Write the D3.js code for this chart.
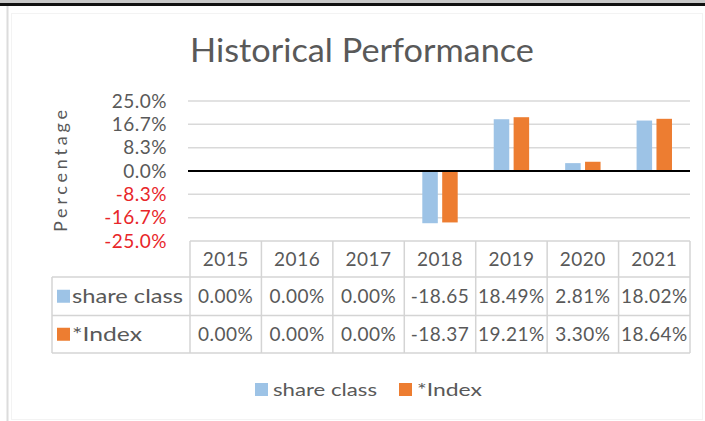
<!DOCTYPE html>
<html><head><meta charset="utf-8">
<script src="https://cdn.jsdelivr.net/npm/d3@7"></script>
<style>
html,body{margin:0;padding:0;background:#fff;}
text{font-family:Lato,"Open Sans",sans-serif;}
</style></head>
<body>
<svg id="c" width="705" height="421"></svg>
<script>
const years = ["2015","2016","2017","2018","2019","2020","2021"];
const seriesNames = ["share class","*Index"];
const shareClass = [0, 0, 0, -18.65, 18.49, 2.81, 18.02];
const indexVals = [0, 0, 0, -18.37, 19.21, 3.30, 18.64];
const shareClassLabels = ["0.00%","0.00%","0.00%","-18.65","18.49%","2.81%","18.02%"];
const indexLabels = ["0.00%","0.00%","0.00%","-18.37","19.21%","3.30%","18.64%"];
const tickValues = [25, 16.7, 8.3, 0, -8.3, -16.7, -25];
const tickLabels = ["25.0%","16.7%","8.3%","0.0%","-8.3%","-16.7%","-25.0%"];
const colors = ["#9DC3E6","#ED7D31"];

const svg = d3.select("#c");
// frame
svg.append("rect").attr("x",0).attr("y",0).attr("width",705).attr("height",3).attr("fill","#c8c8c8");
svg.append("rect").attr("x",0).attr("y",3).attr("width",705).attr("height",3).attr("fill","#111");
svg.append("rect").attr("x",6.5).attr("y",6).attr("width",2).attr("height",415).attr("fill","#dcdcdc");
svg.append("rect").attr("x",11.5).attr("y",13.5).attr("width",691).attr("height",406).attr("fill","none").attr("stroke","#f3f3f3");

const x = d3.scaleBand().domain(years).range([190,690]);
const bw = x.bandwidth();
const x1 = d3.scaleBand().domain(seriesNames).range([bw/2-17.7, bw/2+17.7]).paddingInner(0.22);
const y = d3.scaleLinear().domain([-25,25]).range([241,101]);

svg.append("text").attr("x",362).attr("y",62).attr("text-anchor","middle")
  .attr("font-size",33).attr("fill","#595959").attr("textLength",344).attr("lengthAdjust","spacingAndGlyphs")
  .text("Historical Performance");

// gridlines
svg.append("g").selectAll("line").data(tickValues.filter(v=>v!==0 && v!==-25)).join("line")
  .attr("x1",188).attr("x2",690).attr("y1",d=>y(d)).attr("y2",d=>y(d))
  .attr("stroke","#d9d9d9").attr("stroke-width",1.5);

// y axis labels via d3 axis
const yAxis = d3.axisLeft(y).tickValues(tickValues).tickFormat((d,i)=>tickLabels[i]).tickSize(0).tickPadding(0);
const ga = svg.append("g").attr("transform","translate(167,0)").call(yAxis);
ga.select(".domain").remove();
ga.selectAll("text").attr("font-size",19).attr("font-family","Lato,sans-serif")
  .attr("fill",(d)=> d<0 ? "#e8262a" : "#595959").attr("letter-spacing",0.5);

svg.append("text").attr("transform","translate(67,171) rotate(-90)").attr("text-anchor","middle")
  .attr("font-size",18).attr("fill","#595959").attr("textLength",122).attr("lengthAdjust","spacing").text("Percentage");

// bars
const data = years.map((yr,i)=>({yr, vals:[shareClass[i], indexVals[i]]}));
const gb = svg.append("g");
data.forEach(d=>{
  d.vals.forEach((v,j)=>{
    gb.append("rect")
      .attr("x", x(d.yr)+x1(seriesNames[j]))
      .attr("width", x1.bandwidth())
      .attr("y", y(Math.max(0,v)))
      .attr("height", Math.abs(y(v)-y(0)))
      .attr("fill", colors[j]);
  });
});
// zero line
svg.append("line").attr("x1",188).attr("x2",690).attr("y1",y(0)).attr("y2",y(0))
  .attr("stroke","#000").attr("stroke-width",2);

// data table
const rowTop = [241, 277, 315.5, 353];
const tb = svg.append("g").attr("stroke","#d4d4d4").attr("stroke-width",1.5).attr("fill","none");
const left = 52;
tb.append("line").attr("x1",190).attr("x2",690).attr("y1",rowTop[0]).attr("y2",rowTop[0]);
[1,2,3].forEach(i=> tb.append("line").attr("x1",left).attr("x2",690).attr("y1",rowTop[i]).attr("y2",rowTop[i]));
years.forEach(yr=> tb.append("line").attr("x1",x(yr)).attr("x2",x(yr)).attr("y1",rowTop[0]).attr("y2",rowTop[3]));
tb.append("line").attr("x1",690).attr("x2",690).attr("y1",rowTop[0]).attr("y2",rowTop[3]);
tb.append("line").attr("x1",left).attr("x2",left).attr("y1",rowTop[1]).attr("y2",rowTop[3]);

const rowLabelLen = [111, 70];
const tt = svg.append("g").attr("font-size",19).attr("fill","#595959");
years.forEach(yr=> tt.append("text").attr("x",x(yr)+bw/2).attr("y",(rowTop[0]+rowTop[1])/2+7)
  .attr("text-anchor","middle").attr("letter-spacing",0.5).text(yr));
[shareClassLabels, indexLabels].forEach((labs,r)=>{
  labs.forEach((lab,i)=> tt.append("text").attr("x",x(years[i])+bw/2).attr("y",(rowTop[r+1]+rowTop[r+2])/2+7)
    .attr("text-anchor","middle").attr("letter-spacing",0.5).text(lab));
  svg.append("rect").attr("x",57).attr("y",(rowTop[r+1]+rowTop[r+2])/2-6.5).attr("width",13).attr("height",13).attr("fill",colors[r]);
  tt.append("text").attr("x",72).attr("y",(rowTop[r+1]+rowTop[r+2])/2+7)
    .attr("textLength",rowLabelLen[r]).attr("lengthAdjust","spacingAndGlyphs").text(seriesNames[r]);
});

// bottom legend
const lg = svg.append("g");
const legX = [255, 399];
const legLen = [104, 65];
seriesNames.forEach((s,i)=>{
  lg.append("rect").attr("x",legX[i]).attr("y",383).attr("width",13).attr("height",13).attr("fill",colors[i]);
  lg.append("text").attr("x",legX[i]+18).attr("y",396).attr("font-size",18).attr("fill","#595959")
    .attr("textLength",legLen[i]).attr("lengthAdjust","spacingAndGlyphs").text(s);
});
</script>
</body></html>
